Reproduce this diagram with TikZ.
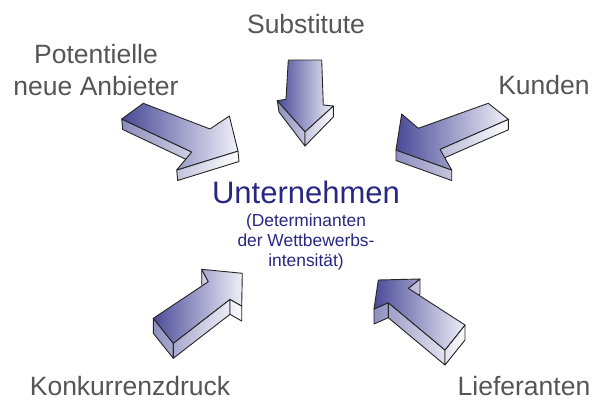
\documentclass[tikz,border=0pt]{standalone}
\usepackage{fontspec}
\setmainfont{Liberation Sans}
\usetikzlibrary{calc}
\definecolor{arrowdark}{RGB}{70,70,150}
\definecolor{arrowlight}{RGB}{244,244,252}
\definecolor{sidedark}{RGB}{140,140,190}
\definecolor{labelgray}{RGB}{85,85,85}
\definecolor{navy}{RGB}{40,40,130}
\tikzset{
  edgeline/.style={draw=black!85, line width=0.9pt, line join=round},
  lbl/.style={text=labelgray, font=\fontsize{26.5}{32}\selectfont, inner sep=0pt, anchor=base},
}
\newcommand\arrface[5]{\begin{scope}\clip #1;\shade[left color=#4,right color=#5] #2 rectangle #3;\end{scope}\draw[edgeline] #1;}
\begin{document}
\begin{tikzpicture}[x=1pt,y=-1pt]
\useasboundingbox (0,0) rectangle (598,400);
\fill[white] (0,0) rectangle (598,400);

% ---- Arrow A (Potentielle neue Anbieter)
\coordinate (A1) at (143.3,103.3);
\coordinate (A2) at (210,129);
\coordinate (A3) at (229.3,116);
\coordinate (A4) at (238,151);
\coordinate (A5) at (176.7,170);
\coordinate (A6) at (191.7,152);
\coordinate (A7) at (121.7,119);
\coordinate (A4b) at ($(A4)+(1,10.5)$);
\coordinate (A5b) at ($(A5)+(1,10.5)$);
\coordinate (A6b) at ($(A6)+(1,10.5)$);
\coordinate (A7b) at ($(A7)+(1,10.5)$);
\arrface{(A7)--(A6)--(A6b)--(A7b)--cycle}{(120,100)}{(240,185)}{sidedark}{white}
\arrface{(A5)--(A4)--(A4b)--(A5b)--cycle}{(120,100)}{(240,185)}{sidedark}{white}
\arrface{(A1)--(A2)--(A3)--(A4)--(A5)--(A6)--(A7)--cycle}{(120,100)}{(240,185)}{arrowdark}{arrowlight}

% ---- Arrow B (Substitute)
\coordinate (B1) at (288.3,60);
\coordinate (B2) at (321.7,60);
\coordinate (B3) at (323.3,105);
\coordinate (B4) at (333.3,106);
\coordinate (B5) at (305,131.7);
\coordinate (B6) at (277.3,100.7);
\coordinate (B7) at (286,99.3);
\coordinate (B4b) at (333.3,117);
\coordinate (B5b) at (305,146);
\coordinate (B6b) at (279,112);
\arrface{(B6)--(B5)--(B5b)--(B6b)--cycle}{(276,58)}{(335,148)}{sidedark}{white}
\arrface{(B5)--(B4)--(B4b)--(B5b)--cycle}{(276,58)}{(335,148)}{sidedark}{white}
\arrface{(B1)--(B2)--(B3)--(B4)--(B5)--(B6)--(B7)--cycle}{(276,58)}{(335,148)}{arrowdark}{arrowlight}

% ---- Arrow C (Kunden)
\coordinate (C1) at (488.3,103.3);
\coordinate (C2) at (508.3,119.3);
\coordinate (C3) at (440,149.3);
\coordinate (C4) at (451.7,170);
\coordinate (C5) at (396,150);
\coordinate (C6) at (401.7,114);
\coordinate (C7) at (418.3,128.3);
\coordinate (C2b) at ($(C2)+(0,10.5)$);
\coordinate (C3b) at ($(C3)+(0,10.5)$);
\coordinate (C4b) at ($(C4)+(0,10.5)$);
\coordinate (C5b) at ($(C5)+(0,10.5)$);
\arrface{(C2)--(C3)--(C3b)--(C2b)--cycle}{(394,100)}{(510,182)}{sidedark}{white}
\arrface{(C4)--(C5)--(C5b)--(C4b)--cycle}{(394,100)}{(510,182)}{sidedark}{white}
\arrface{(C1)--(C2)--(C3)--(C4)--(C5)--(C6)--(C7)--cycle}{(394,100)}{(510,182)}{arrowdark}{arrowlight}

% ---- Arrow D (Konkurrenzdruck)
\coordinate (D1) at (153.3,318.3);
\coordinate (D2) at (173.3,343.3);
\coordinate (D3) at (230,299.3);
\coordinate (D4) at (241.7,306);
\coordinate (D5) at (242.3,273.3);
\coordinate (D6) at (201.7,269.3);
\coordinate (D7) at (208.3,281.7);
\foreach \p in {D1,D2,D3,D4,D6,D7} {\coordinate (\p b) at ($(\p)+(0,15)$);}
\arrface{(D6)--(D7)--(D7b)--(D6b)--cycle}{(150,266)}{(245,360)}{sidedark}{white}
\arrface{(D1)--(D2)--(D2b)--(D1b)--cycle}{(150,266)}{(245,360)}{sidedark}{white}
\arrface{(D2)--(D3)--(D3b)--(D2b)--cycle}{(150,266)}{(245,360)}{sidedark}{white}
\arrface{(D3)--(D4)--(D4b)--(D3b)--cycle}{(150,266)}{(245,360)}{sidedark}{white}
\arrface{(D1)--(D7)--(D6)--(D5)--(D4)--(D3)--(D2)--cycle}{(150,266)}{(245,360)}{arrowdark}{arrowlight}

% ---- Arrow E (Lieferanten)
\coordinate (E1) at (378.3,280);
\coordinate (E2) at (420,279);
\coordinate (E3) at (408.3,288.3);
\coordinate (E4) at (465,325);
\coordinate (E5) at (445,350);
\coordinate (E6) at (388.3,302.7);
\coordinate (E7) at (374,309);
\foreach \p in {E2,E3,E4,E5,E6,E7} {\coordinate (\p b) at ($(\p)+(0,15)$);}
\arrface{(E2)--(E3)--(E3b)--(E2b)--cycle}{(372,276)}{(468,366)}{sidedark}{white}
\arrface{(E6)--(E7)--(E7b)--(E6b)--cycle}{(372,276)}{(468,366)}{sidedark}{white}
\arrface{(E5)--(E6)--(E6b)--(E5b)--cycle}{(372,276)}{(468,366)}{sidedark}{white}
\arrface{(E4)--(E5)--(E5b)--(E4b)--cycle}{(372,276)}{(468,366)}{sidedark}{white}
\arrface{(E1)--(E2)--(E3)--(E4)--(E5)--(E6)--(E7)--cycle}{(372,276)}{(468,366)}{arrowdark}{arrowlight}

% ---- Labels
\node[lbl, align=center] (pot) at (96,95) {Potentielle\\neue Anbieter};
\node[lbl] (sub) at (306,33) {Substitute};
\node[lbl] (kun) at (544,94) {Kunden};
\node[lbl] (kon) at (130,395) {Konkurrenzdruck};
\node[lbl] (lie) at (524,395) {Lieferanten};
\node[text=navy, font=\fontsize{31}{36}\selectfont, anchor=base, inner sep=0pt] (unt) at (306,203) {Unternehmen};
\node[text=navy, font=\fontsize{17.4}{20}\selectfont, anchor=base, align=center, inner sep=0pt] (det) at (306,266.5) {(Determinanten\\der Wettbewerbs-\\intensität)};
\end{tikzpicture}
\end{document}
